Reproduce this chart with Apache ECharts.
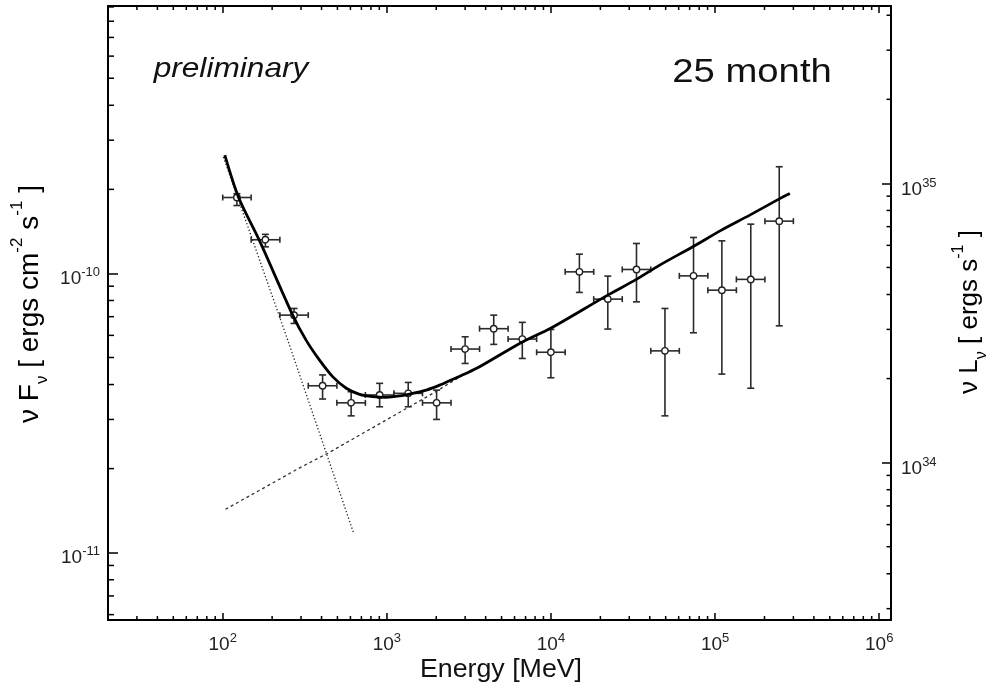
<!DOCTYPE html>
<html>
<head>
<meta charset="utf-8">
<script src="https://cdn.jsdelivr.net/npm/echarts@6/dist/echarts.min.js"></script>
<style>
html,body{margin:0;padding:0;background:#fff;}
#chart{width:988px;height:688px;}
</style>
</head>
<body>
<div id="chart"></div>
<script>
// ---- data ----
const energy     = [122, 182, 272, 406, 606, 904, 1350, 2010, 3000, 4480, 6690, 9990, 14900, 22200, 33200, 49500, 73900, 110000, 165000, 246000];
const energyLow  = [100, 149, 223, 332, 496, 740, 1105, 1649, 2461, 3672, 5480, 8179, 12206, 18216, 27185, 40570, 60546, 90357, 134846, 201240];
const energyHigh = [149, 223, 332, 496, 740, 1105, 1649, 2461, 3672, 5480, 8179, 12206, 18216, 27185, 40570, 60546, 90357, 134846, 201240, 300000];
const flux       = [1.87e-10, 1.32e-10, 7.09e-11, 3.96e-11, 3.44e-11, 3.67e-11, 3.72e-11, 3.44e-11, 5.36e-11, 6.34e-11, 5.82e-11, 5.22e-11, 1.013e-10, 8.09e-11, 1.033e-10, 5.28e-11, 9.80e-11, 8.71e-11, 9.52e-11, 1.539e-10];
const fluxHigh   = [1.93e-10, 1.38e-10, 7.49e-11, 4.33e-11, 3.77e-11, 4.04e-11, 4.07e-11, 3.82e-11, 5.93e-11, 7.09e-11, 6.68e-11, 6.30e-11, 1.172e-10, 9.78e-11, 1.28e-10, 7.49e-11, 1.345e-10, 1.308e-10, 1.501e-10, 2.41e-10];
const fluxLow    = [1.75e-10, 1.245e-10, 6.62e-11, 3.55e-11, 3.09e-11, 3.33e-11, 3.33e-11, 3.00e-11, 4.76e-11, 5.57e-11, 4.96e-11, 4.23e-11, 8.55e-11, 6.32e-11, 7.91e-11, 3.09e-11, 6.13e-11, 4.36e-11, 3.88e-11, 6.49e-11];

// total model curve (solid)
const modelE    = [103, 125, 167, 267, 322, 389, 469, 566, 682, 822, 992, 1195, 1440, 1739, 2096, 2526, 3049, 3674, 6694, 9958, 22170, 33170, 46000, 73110, 109400, 162700, 244500, 285500];
const modelF    = [2.65e-10, 1.87e-10, 1.316e-10, 7.09e-11, 5.77e-11, 4.89e-11, 4.26e-11, 3.88e-11, 3.69e-11, 3.62e-11, 3.60e-11, 3.64e-11, 3.72e-11, 3.82e-11, 3.98e-11, 4.18e-11, 4.39e-11, 4.63e-11, 5.68e-11, 6.36e-11, 8.36e-11, 9.52e-11, 1.071e-10, 1.246e-10, 1.429e-10, 1.617e-10, 1.845e-10, 1.933e-10];
// steep component (dotted)
const syncE     = [101, 249, 629];
const syncF     = [2.61e-10, 5.77e-11, 1.17e-11];
// rising component (dashed)
const icE       = [104, 307, 437, 1908, 2894];
const icF       = [1.43e-11, 2.04e-11, 2.27e-11, 3.72e-11, 4.32e-11];

// axis ranges
const xMin = 20, xMax = 1.18e6;
const yMin = 5.74e-12, yMax = 9.07e-10;
const lumPerFlux = 4.76e44;          // right axis scale factor
const y2Min = yMin * lumPerFlux, y2Max = yMax * lumPerFlux;

// minor tick values (2..9 x decade)
function minorTicks(lo, hi) {
  const out = [];
  for (let e = Math.floor(Math.log10(lo)) - 1; e <= Math.ceil(Math.log10(hi)); e++) {
    for (let m = 2; m <= 9; m++) {
      const v = m * Math.pow(10, e);
      if (v > lo * 1.0001 && v < hi * 0.9999) out.push(v);
    }
  }
  return out;
}
const xMinor = minorTicks(xMin, xMax);
const yMinor = minorTicks(yMin, yMax);
const y2Minor = minorTicks(y2Min, y2Max);

const isPow10 = v => Math.abs(Math.log10(v) - Math.round(Math.log10(v))) < 1e-6;
const powLabel = v => isPow10(v) ? '{b|10}{sup|' + Math.round(Math.log10(v)) + '}' : '';
const FONT = 'Liberation Sans';
const labelRich = {
  b:   {fontSize: 19, lineHeight: 22, verticalAlign: 'bottom', color: '#222', fontFamily: FONT},
  sup: {fontSize: 13, verticalAlign: 'top', color: '#222', fontFamily: FONT}
};

const axisLine = {show: true, lineStyle: {color: '#000', width: 2}};

const chart = echarts.init(document.getElementById('chart'), null, {renderer: 'canvas'});

function xTicksRender(len) {
  return function (params, api) {
    const cs = params.coordSys;
    const x = api.coord([api.value(0), yMin])[0];
    const st = {stroke: '#000', lineWidth: 1.5};
    return {type: 'group', children: [
      {type: 'line', shape: {x1: x, y1: cs.y + cs.height, x2: x, y2: cs.y + cs.height - len}, style: st},
      {type: 'line', shape: {x1: x, y1: cs.y, x2: x, y2: cs.y + len}, style: st}
    ]};
  };
}
function yTicksRender(len, side) {
  return function (params, api) {
    const cs = params.coordSys;
    const y = api.coord([xMin, api.value(1)])[1];
    const st = {stroke: '#000', lineWidth: 1.5};
    const x0 = side === 'left' ? cs.x : cs.x + cs.width;
    const x1 = side === 'left' ? cs.x + len : cs.x + cs.width - len;
    return {type: 'line', shape: {x1: x0, y1: y, x2: x1, y2: y}, style: st};
  };
}

const pointData = energy.map((e, i) => [e, flux[i], energyLow[i], energyHigh[i], fluxLow[i], fluxHigh[i]]);

function errRender(params, api) {
  const c = api.coord([api.value(0), api.value(1)]);
  const xl = api.coord([api.value(2), api.value(1)])[0];
  const xh = api.coord([api.value(3), api.value(1)])[0];
  const yl = api.coord([api.value(0), api.value(4)])[1];
  const yh = api.coord([api.value(0), api.value(5)])[1];
  const st = {stroke: '#2a2a2a', lineWidth: 1.6};
  const capH = 3, capV = 3.5;
  return {type: 'group', children: [
    {type: 'line', shape: {x1: xl, y1: c[1], x2: xh, y2: c[1]}, style: st},
    {type: 'line', shape: {x1: xl, y1: c[1] - capH, x2: xl, y2: c[1] + capH}, style: st},
    {type: 'line', shape: {x1: xh, y1: c[1] - capH, x2: xh, y2: c[1] + capH}, style: st},
    {type: 'line', shape: {x1: c[0], y1: yl, x2: c[0], y2: yh}, style: st},
    {type: 'line', shape: {x1: c[0] - capV, y1: yl, x2: c[0] + capV, y2: yl}, style: st},
    {type: 'line', shape: {x1: c[0] - capV, y1: yh, x2: c[0] + capV, y2: yh}, style: st},
    {type: 'circle', shape: {cx: c[0], cy: c[1], r: 3.2}, style: {fill: '#fff', stroke: '#222', lineWidth: 1.4}}
  ]};
}

const titleRich = (fs, ss) => ({
  t:   {fontSize: fs, lineHeight: fs * 1.5, verticalAlign: 'middle', fontFamily: FONT, color: '#111'},
  sup: {fontSize: ss, verticalAlign: 'top', fontFamily: FONT, color: '#111'},
  sub: {fontSize: ss, verticalAlign: 'bottom', fontFamily: FONT, color: '#111'}
});

const option = {
  animation: false,
  backgroundColor: '#fff',
  grid: {left: 108, right: 97, top: 6, bottom: 68, containLabel: false, outerBoundsMode: 'none'},
  xAxis: [
    {type: 'log', logBase: 10, min: xMin, max: xMax, position: 'bottom',
     axisLine: axisLine, splitLine: {show: false},
     axisTick: {show: true, inside: true, length: 7, lineStyle: {color: '#000', width: 1.5}},
     axisLabel: {formatter: powLabel, rich: labelRich, margin: 12, showMinLabel: false, showMaxLabel: true}},
    {type: 'log', logBase: 10, min: xMin, max: xMax, position: 'top',
     axisLine: axisLine, splitLine: {show: false},
     axisTick: {show: true, inside: true, length: 7, lineStyle: {color: '#000', width: 1.5}},
     axisLabel: {show: false}}
  ],
  yAxis: [
    {type: 'log', logBase: 10, min: yMin, max: yMax, position: 'left',
     axisLine: axisLine, splitLine: {show: false},
     axisTick: {show: true, inside: true, length: 10, lineStyle: {color: '#000', width: 1.5}},
     axisLabel: {formatter: powLabel, rich: labelRich, margin: 8, padding: [7, 0, 0, 0]}},
    {type: 'log', logBase: 10, min: y2Min, max: y2Max, position: 'right',
     axisLine: axisLine, splitLine: {show: false},
     axisTick: {show: true, inside: true, length: 9, lineStyle: {color: '#000', width: 1.5}},
     axisLabel: {formatter: powLabel, rich: labelRich, margin: 10, padding: [9, 0, 0, 0]}}
  ],
  graphic: [
    {type: 'text', x: 231, y: 69, scaleX: 1.13,
     style: {text: 'preliminary', font: 'italic 28px "Liberation Sans"', fill: '#111', align: 'center', verticalAlign: 'middle'}},
    {type: 'text', x: 752, y: 73, scaleX: 1.16,
     style: {text: '25 month', font: '33px "Liberation Sans"', fill: '#111', align: 'center', verticalAlign: 'middle'}},
    {type: 'text', x: 501, y: 670, scaleX: 1.07,
     style: {text: 'Energy [MeV]', font: '25px "Liberation Sans"', fill: '#111', align: 'center', verticalAlign: 'middle'}},
    {type: 'text', x: 30, y: 304, rotation: Math.PI / 2,
     style: {text: '{t|ν F}{sub|ν}{t| [ ergs cm}{sup|-2}{t| s}{sup|-1}{t| ]}', align: 'center', verticalAlign: 'middle',
       rich: titleRich(28, 17)}},
    {type: 'text', x: 970, y: 312, rotation: Math.PI / 2,
     style: {text: '{t|ν L}{sub|ν}{t| [ ergs s}{sup|-1}{t| ]}', align: 'center', verticalAlign: 'middle',
       rich: titleRich(26, 16)}}
  ],
  series: [
    {type: 'custom', name: 'xminor', xAxisIndex: 0, yAxisIndex: 0, silent: true, clip: false,
     data: xMinor.map(v => [v, yMin]), renderItem: xTicksRender(4)},
    {type: 'custom', name: 'yminor', xAxisIndex: 0, yAxisIndex: 0, silent: true, clip: false,
     data: yMinor.map(v => [xMin, v]), renderItem: yTicksRender(6, 'left')},
    {type: 'custom', name: 'y2minor', xAxisIndex: 0, yAxisIndex: 1, silent: true, clip: false,
     data: y2Minor.map(v => [xMin, v]), renderItem: yTicksRender(4.5, 'right')},
    {type: 'line', name: 'sync', xAxisIndex: 0, yAxisIndex: 0, showSymbol: false, silent: true,
     data: syncE.map((e, i) => [e, syncF[i]]),
     lineStyle: {color: '#222', width: 1.3, type: [1.3, 2.2]}},
    {type: 'line', name: 'ic', xAxisIndex: 0, yAxisIndex: 0, showSymbol: false, silent: true,
     data: icE.map((e, i) => [e, icF[i]]),
     lineStyle: {color: '#333', width: 1.3, type: [3, 3]}},
    {type: 'custom', name: 'points', xAxisIndex: 0, yAxisIndex: 0, silent: true,
     data: pointData, renderItem: errRender, encode: {x: 0, y: 1}, z: 3},
    {type: 'line', name: 'total', xAxisIndex: 0, yAxisIndex: 0, showSymbol: false, silent: true, smooth: 0.3,
     data: modelE.map((e, i) => [e, modelF[i]]),
     lineStyle: {color: '#000', width: 2.8}, z: 4}
  ]
};
chart.setOption(option);
</script>
</body>
</html>
